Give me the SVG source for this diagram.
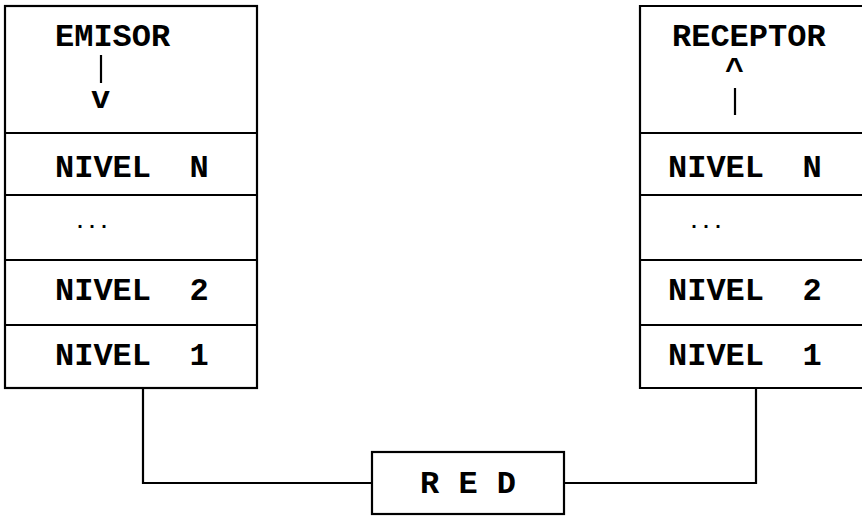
<svg xmlns="http://www.w3.org/2000/svg" width="862" height="516" viewBox="0 0 862 516">
  <style>
    .box { fill: #fff; stroke: #000; stroke-width: 2.2; }
    .sep { stroke: #000; stroke-width: 2.2; fill: none; }
    .wire { stroke: #000; stroke-width: 2.2; fill: none; }
    .t { font-family: "Liberation Mono", "Courier New", monospace; font-size: 32px; font-weight: bold; fill: #000; white-space: pre; }
    .dots { font-family: "Liberation Mono", "Courier New", monospace; font-size: 20px; font-weight: bold; fill: #000; }
  </style>
  <rect width="862" height="516" fill="#fff"/>

  <!-- connectors: stack bottoms to the network box -->
  <g id="connectors">
    <polyline class="wire" points="143,388 143,483 372,483"/>
    <polyline class="wire" points="564,483 756,483 756,388"/>
  </g>

  <!-- sender protocol stack -->
  <g id="emisor">
    <rect class="box" x="5" y="6" width="252" height="382"/>
    <line class="sep" x1="5" y1="133" x2="257" y2="133"/>
    <line class="sep" x1="5" y1="195" x2="257" y2="195"/>
    <line class="sep" x1="5" y1="260" x2="257" y2="260"/>
    <line class="sep" x1="5" y1="325" x2="257" y2="325"/>
    <text class="t" x="55" y="46">EMISOR</text>
    <line class="sep" x1="101" y1="55" x2="101" y2="83" stroke-width="2"/>
    <text class="t" x="91" y="108">v</text>
    <text class="t" x="55" y="177" xml:space="preserve">NIVEL  N</text>
    <text class="dots" x="74" y="228">...</text>
    <text class="t" x="55" y="300" xml:space="preserve">NIVEL  2</text>
    <text class="t" x="55" y="365" xml:space="preserve">NIVEL  1</text>
  </g>

  <!-- receiver protocol stack (open on the right edge) -->
  <g id="receptor">
    <polyline class="sep" points="870,6 640,6 640,388 870,388"/>
    <line class="sep" x1="640" y1="133" x2="870" y2="133"/>
    <line class="sep" x1="640" y1="195" x2="870" y2="195"/>
    <line class="sep" x1="640" y1="260" x2="870" y2="260"/>
    <line class="sep" x1="640" y1="325" x2="870" y2="325"/>
    <text class="t" x="672" y="46">RECEPTOR</text>
    <text class="t" x="725" y="80">^</text>
    <line class="sep" x1="735" y1="88" x2="735" y2="115" stroke-width="2"/>
    <text class="t" x="668" y="177" xml:space="preserve">NIVEL  N</text>
    <text class="dots" x="688" y="228">...</text>
    <text class="t" x="668" y="300" xml:space="preserve">NIVEL  2</text>
    <text class="t" x="668" y="365" xml:space="preserve">NIVEL  1</text>
  </g>

  <!-- network -->
  <g id="red">
    <rect class="box" x="372" y="452" width="192" height="62"/>
    <text class="t" x="420" y="493" xml:space="preserve">R E D</text>
  </g>
</svg>
